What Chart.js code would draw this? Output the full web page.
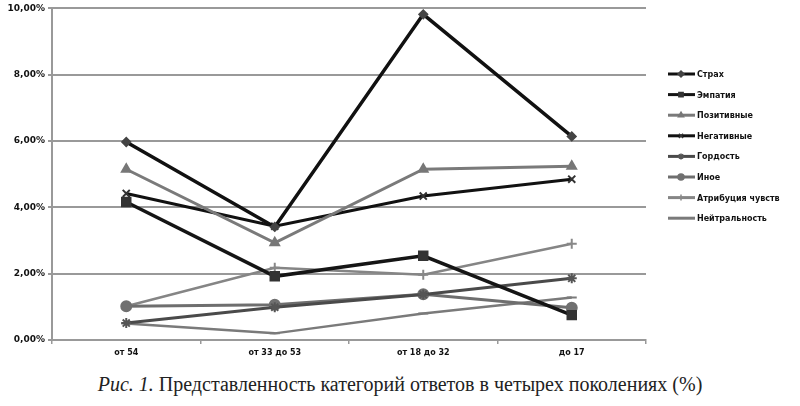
<!DOCTYPE html>
<html>
<head>
<meta charset="utf-8">
<script src="https://cdn.jsdelivr.net/npm/chart.js@4.4.0/dist/chart.umd.min.js"></script>
<style>
  body { margin: 0; background: #fff; }
  #wrap { position: relative; width: 800px; height: 366px; }
  #caption {
    font-family: "Liberation Serif", "DejaVu Serif", serif;
    font-size: 20px; color: #222; text-align: center;
    margin-top: 7px; width: 800px;
  }
</style>
</head>
<body>
<div id="wrap"><canvas id="chart"></canvas></div>
<div id="caption"><i>Рис. 1.</i> Представленность категорий ответов в четырех поколениях (%)</div>
<script>
// categories (age groups)
const categories = ["от 54", "от 33 до 53", "от 18 до 32", "до 17"];

// series, percent
const strakh = [5.97, 3.41, 9.82, 6.14];
const empatiya = [4.16, 1.92, 2.54, 0.75];
const pozitivnye = [5.15, 2.93, 5.15, 5.24];
const negativnye = [4.42, 3.43, 4.34, 4.85];
const gordost = [0.51, 0.99, 1.37, 1.86];
const inoe = [1.02, 1.06, 1.38, 0.97];
const atribuciya = [1.02, 2.18, 1.97, 2.9];
const neytralnost = [0.5, 0.2, 0.8, 1.28];

// y ticks
const yTicks = [0, 2, 4, 6, 8, 10];

function series(label, data, color, markColor, style, radius, width) {
  return {
    label: label,
    data: data,
    borderColor: color,
    backgroundColor: markColor,
    pointBackgroundColor: markColor,
    pointBorderColor: markColor,
    pointStyle: style,
    pointRadius: radius,
    pointBorderWidth: 2,
    borderWidth: width,
    tension: 0
  };
}

// legend drawn on the right: short line with marker + label
const sideLegend = {
  id: "sideLegend",
  afterDraw(chart) {
    const ctx = chart.ctx;
    ctx.save();
    chart.data.datasets.forEach((ds, i) => {
      const y = 74 + i * 20.6;
      ctx.strokeStyle = ds.borderColor;
      ctx.lineWidth = 3;
      ctx.beginPath();
      ctx.moveTo(668, y);
      ctx.lineTo(695, y);
      ctx.stroke();
      ctx.fillStyle = ds.pointBackgroundColor;
      ctx.strokeStyle = ds.pointBorderColor;
      ctx.lineWidth = 1.5;
      Chart.helpers.drawPoint(ctx, {
        pointStyle: ds.pointStyle, radius: 3, rotation: 0, borderWidth: 1.5
      }, 681, y);
      ctx.fillStyle = "#111";
      ctx.font = "bold 8px 'DejaVu Sans'";
      ctx.textBaseline = "middle";
      ctx.textAlign = "left";
      ctx.fillText(ds.label, 697, y + 1);
    });
    ctx.restore();
  }
};

const ctx = document.getElementById("chart").getContext("2d");
new Chart(ctx, {
  type: "line",
  data: {
    labels: categories,
    datasets: [
      series("Страх", strakh, "#111", "#444", "rectRot", 4, 3.5),
      series("Эмпатия", empatiya, "#151515", "#333", "rect", 6, 3.5),
      series("Позитивные", pozitivnye, "#7a7a7a", "#777", "triangle", 5, 3),
      series("Негативные", negativnye, "#111", "#333", "crossRot", 5, 3),
      series("Гордость", gordost, "#4a4a4a", "#555", "star", 5, 3),
      series("Иное", inoe, "#6e6e6e", "#707070", "circle", 5, 3),
      series("Атрибуция чувств", atribuciya, "#858585", "#888", "cross", 5, 2.5),
      series("Нейтральность", neytralnost, "#7a7a7a", "#7a7a7a", "line", 5, 2.5)
    ]
  },
  options: {
    responsive: true,
    maintainAspectRatio: false,
    animation: false,
    layout: { padding: { top: 6, right: 154, left: 0, bottom: 0 } },
    plugins: {
      legend: { display: false },
      tooltip: { enabled: false }
    },
    scales: {
      x: {
        offset: true,
        grid: {
          offset: true,
          drawOnChartArea: false,
          drawTicks: true,
          tickLength: 4,
          color: "#999",
          lineWidth: 1.5
        },
        border: { color: "#999", width: 2 },
        ticks: {
          color: "#111",
          font: { family: "DejaVu Sans", size: 8, weight: "bold" },
          padding: 4
        },
        afterFit(scale) { scale.height = 26; }
      },
      y: {
        min: 0,
        max: 10,
        afterBuildTicks(scale) { scale.ticks = yTicks.map(v => ({ value: v })); },
        grid: { color: "#999", lineWidth: 2, drawTicks: true, tickLength: 4 },
        border: { color: "#999", width: 2 },
        ticks: {
          color: "#111",
          font: { family: "DejaVu Sans", size: 9, weight: "bold" },
          padding: 3,
          callback: v => v.toFixed(2).replace(".", ",") + "%"
        },
        afterFit(scale) { scale.width = 52; }
      }
    }
  },
  plugins: [sideLegend]
});
</script>
</body>
</html>
